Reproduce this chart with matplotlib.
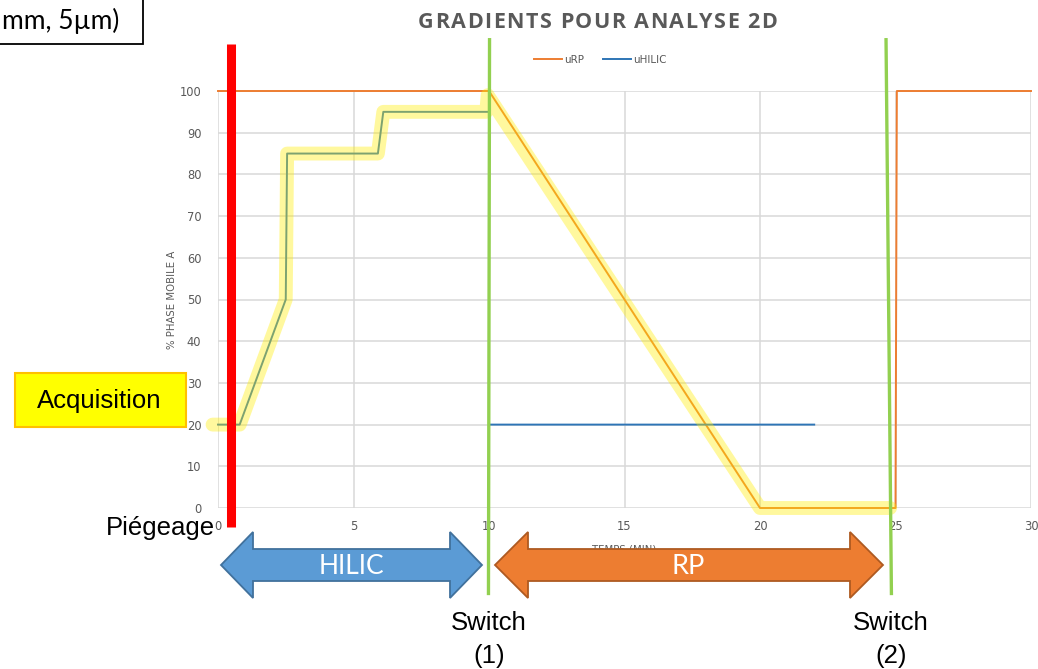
import matplotlib
matplotlib.use("Agg")
import matplotlib.pyplot as plt
from matplotlib.patches import Polygon, Rectangle

# ---------------- data ----------------
rp_time = [0, 10, 20, 25, 25.05, 30]
rp_pct = [100, 100, 0, 0, 100, 100]

hilic_time = [0, 0.8, 2.5, 2.55, 5.9, 6.1, 10, 10, 22]
hilic_pct = [20, 20, 50, 85, 85, 95, 95, 20, 20]

highlight_time = [-0.2, 0.8, 2.5, 2.55, 5.9, 6.1, 9.9, 9.95, 20, 24.8]
highlight_pct = [20, 20, 50, 85, 85, 95, 95, 99, 0, 0]

trap_time = 0.48
switch1_time = [10.02, 9.98]
switch2_time = [24.65, 24.85]

x_ticks = [0, 5, 10, 15, 20, 25, 30]
y_ticks = [0, 10, 20, 30, 40, 50, 60, 70, 80, 90, 100]

title = "GRADIENTS POUR ANALYSE 2D"

W, H = 1038, 669
def fp(x, y):
    return (x / W, 1 - y / H)

gray = "#595959"
fig = plt.figure(figsize=(W / 100, H / 100), dpi=100)
ax = fig.add_axes([218 / W, 1 - 508 / H, (1031 - 218) / W, (508 - 91) / H])
ax.set_xlim(0, 30)
ax.set_ylim(0, 100)
for s in ax.spines.values():
    s.set_visible(False)
ax.set_xticks(x_ticks)
ax.set_yticks(y_ticks)
ax.grid(True, color="#d9d9d9", lw=1.1)
ax.set_axisbelow(True)
ax.tick_params(length=0, labelsize=8.3, labelcolor=gray, pad=9)
ax.tick_params(axis="y", pad=12)
ax.set_ylabel("% PHASE MOBILE A", fontsize=7.3, color=gray, labelpad=2)
ax.set_xlabel("TEMPS (MIN)", fontsize=7.3, color=gray, labelpad=8)

ax.plot(rp_time, rp_pct, color="#ed7d31", lw=1.4, label="uRP", clip_on=False, zorder=3)
ax.plot(hilic_time, hilic_pct, color="#2e75b6", lw=1.4, label="uHILIC", clip_on=False, zorder=3)
ax.plot(highlight_time, highlight_pct, color="#ffee00", alpha=0.38, lw=10,
        solid_capstyle="round", solid_joinstyle="round", clip_on=False, zorder=4)

ax.legend(loc="center", bbox_to_anchor=fp(600, 60), bbox_transform=fig.transFigure,
          ncol=2, frameon=False, fontsize=7.5, handlelength=2.7, handletextpad=0.2,
          columnspacing=1.8, labelcolor=gray)

# trapping (red) and switch (green) markers
ax.plot([trap_time, trap_time], [111.3, -4.6], color="#ff0000", lw=6.5,
        solid_capstyle="butt", clip_on=False, zorder=5)
ax.plot(switch1_time, [112.7, -20.9], color="#92d050", lw=2.4,
        solid_capstyle="butt", clip_on=False, zorder=6)
ax.plot(switch2_time, [112.7, -20.9], color="#92d050", lw=2.4,
        solid_capstyle="butt", clip_on=False, zorder=6)

# letter-spaced title
renderer = fig.canvas.get_renderer()
tprops = dict(fontsize=15.5, fontweight="bold", color=gray, family="Open Sans", va="center")
probe = fig.text(0, 0, title, **tprops)
full_w = probe.get_window_extent(renderer).width
probe.remove()
left, right = 418, 777
spacing = (right - left - full_w) / (len(title) - 1)
for i, ch in enumerate(title):
    if i == 0:
        pre_w = 0
    else:
        p = fig.text(0, 0, title[:i] + "|", **tprops)
        q = fig.text(0, 0, "|", **tprops)
        pre_w = p.get_window_extent(renderer).width - q.get_window_extent(renderer).width
        p.remove(); q.remove()
    fig.text(*fp(left + pre_w + i * spacing, 22), ch, ha="left", **tprops)

# top-left box
fig.patches.append(Rectangle(fp(-10, 44), 153 / W, 54 / H, transform=fig.transFigure,
                             facecolor="white", edgecolor="black", lw=1.3))
fig.text(*fp(119, 21), "mm, 5µm)", fontsize=19, family="Lato", ha="right", va="center")

# Acquisition box
fig.patches.append(Rectangle(fp(15, 427), 171 / W, 54 / H, transform=fig.transFigure,
                             facecolor="#ffff00", edgecolor="#ffc000", lw=1.5))
fig.text(*fp(99, 401), "Acquisition", fontsize=18.5, family="Liberation Sans",
         ha="center", va="center")

fig.text(*fp(215, 528), "Piégeage", fontsize=18.5, family="Liberation Sans",
         ha="right", va="center")

for xc, lab in [(489, "(1)"), (891, "(2)")]:
    fig.text(*fp(xc, 623), "Switch", fontsize=18.5, family="Liberation Sans",
             ha="center", va="center")
    fig.text(*fp(xc, 656), lab, fontsize=18.5, family="Liberation Sans",
             ha="center", va="center")

def dbl_arrow(x0, x1, head, yc, half_body, half_head, fc, ec):
    pts = [(x0, yc), (x0 + head, yc - half_head), (x0 + head, yc - half_body),
           (x1 - head, yc - half_body), (x1 - head, yc - half_head), (x1, yc),
           (x1 - head, yc + half_head), (x1 - head, yc + half_body),
           (x0 + head, yc + half_body), (x0 + head, yc + half_head)]
    fig.patches.append(Polygon([fp(*p) for p in pts], closed=True, transform=fig.transFigure,
                               facecolor=fc, edgecolor=ec, lw=1.3, zorder=10))

dbl_arrow(221, 482, 32, 565, 16, 33, "#5b9bd5", "#41719c")
dbl_arrow(495, 883, 33, 565, 16, 33, "#ed7d31", "#ae5a21")
fig.text(*fp(351, 566), "HILIC", fontsize=19, family="Lato", color="white",
         ha="center", va="center", zorder=11)
fig.text(*fp(688, 566), "RP", fontsize=19.5, family="Lato", color="white",
         ha="center", va="center", zorder=11)

fig.savefig("out.png", dpi=100)
